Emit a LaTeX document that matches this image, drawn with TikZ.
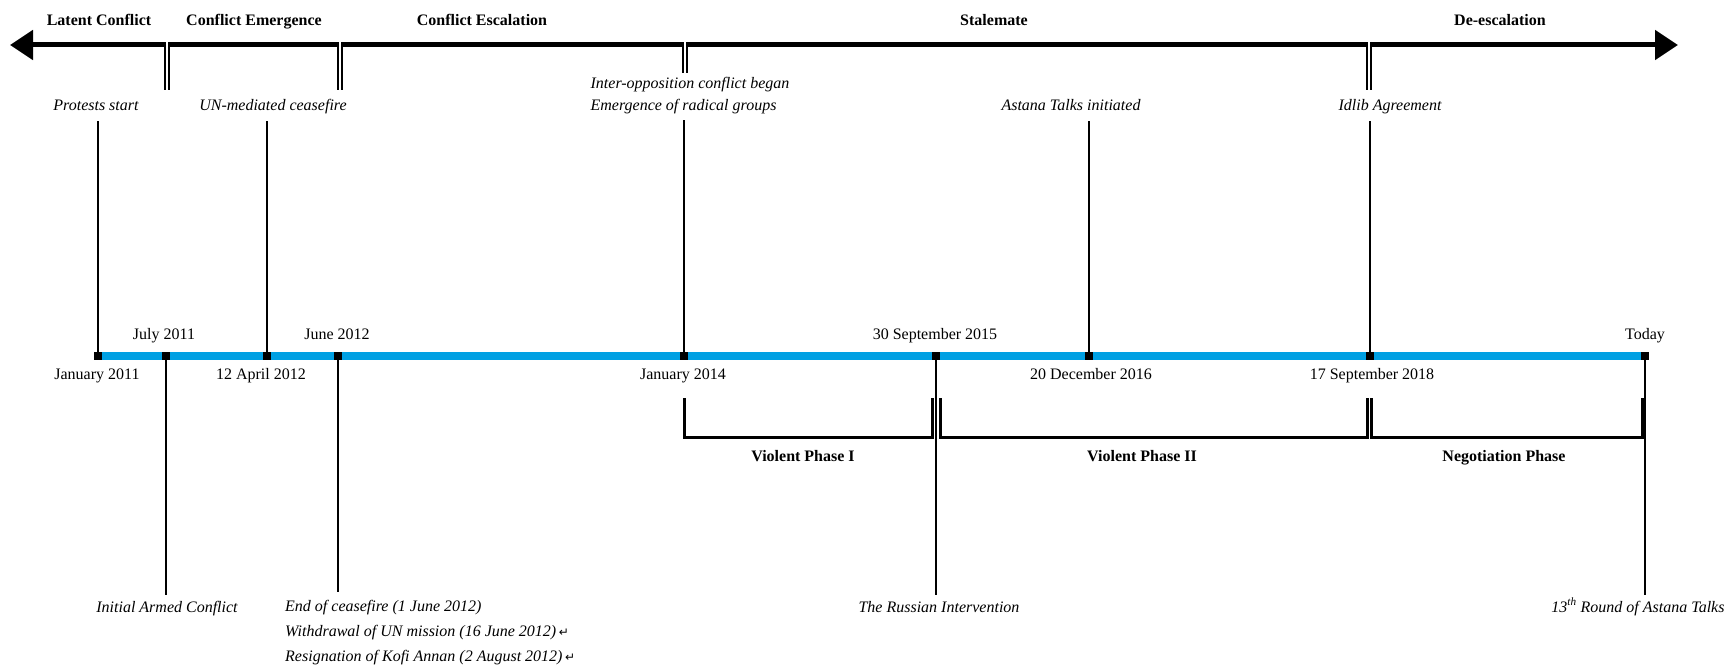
\documentclass[tikz,border=0pt]{standalone}
\usepackage{fontspec}
\setmainfont{Liberation Serif}
\newfontfamily\symfont{DejaVu Sans}
\usetikzlibrary{arrows.meta}
\definecolor{tlblue}{HTML}{00A0E3}
\begin{document}
\begin{tikzpicture}[x=1pt,y=-1pt,
 phase/.style={font=\fontsize{16}{20}\selectfont\bfseries, inner sep=0pt, text height=11.5pt, text depth=3.5pt},
 event/.style={font=\fontsize{16}{22}\selectfont\itshape, inner sep=0pt, text height=11.5pt, text depth=3.5pt},
 event2/.style={font=\fontsize{16}{22}\selectfont\itshape, inner sep=0pt, align=left},
 evmulti/.style={font=\fontsize{16}{25}\selectfont\itshape, inner sep=0pt, align=left},
 datelbl/.style={font=\fontsize{16}{20}\selectfont, inner sep=0pt, text height=11.5pt, text depth=3.5pt},
 sq/.style={fill=black, minimum size=8.5pt, inner sep=0pt, draw=none},
 conn/.style={line width=2.5pt},
 tickmark/.style={double, double distance=2.5pt, line width=2pt},
 bracket/.style={line width=3pt},
]
\useasboundingbox (0,0) rectangle (1733,671);

% top phase arrow
\coordinate (aL) at (10,45);
\coordinate (aR) at (1678,45);
\draw[line width=5pt, {Triangle[length=23pt,width=29pt]}-{Triangle[length=23pt,width=29pt]}] (aL) -- (aR);

% phase labels
\node[phase] (p1) at (99,22) {Latent Conflict};
\node[phase] (p2) at (254,22) {Conflict Emergence};
\node[phase] (p3) at (482,22) {Conflict Escalation};
\node[phase] (p4) at (994,22) {Stalemate};
\node[phase] (p5) at (1500,22) {De-escalation};

% phase boundary ticks
\foreach \x/\n/\e in {167/k1/90,340/k2/90,685/k3/73,1369/k4/90}{
  \coordinate (\n a) at (\x,42);
  \coordinate (\n b) at (\x,\e);
  \draw[tickmark] (\n a) -- (\n b);
}

% timeline
\coordinate (t0) at (97,356);
\coordinate (tE) at (1645,356);
\draw[tlblue, line width=8pt] (t0) -- (tE);

\node[sq] (s1) at (98,356) {};
\node[sq] (s2) at (166,356) {};
\node[sq] (s3) at (267,356) {};
\node[sq] (s4) at (338,356) {};
\node[sq] (s5) at (684,356) {};
\node[sq] (s6) at (936,356) {};
\node[sq] (s7) at (1089,356) {};
\node[sq] (s8) at (1370,356) {};
\node[sq] (s9) at (1645,356) {};

% date labels
\node[datelbl] (d2) at (164,335) {July 2011};
\node[datelbl] (d4) at (337,335) {June 2012};
\node[datelbl] (d6) at (935,335) {30 September 2015};
\node[datelbl] (d9) at (1645,335) {Today};
\node[datelbl] (d1) at (97,375) {January 2011};
\node[datelbl] (d3) at (261,375) {12 April 2012};
\node[datelbl] (d5) at (683,375) {January 2014};
\node[datelbl] (d7) at (1091,375) {20 December 2016};
\node[datelbl] (d8) at (1372,375) {17 September 2018};

% top events
\node[event] (e1) at (96,107) {Protests start};
\node[event] (e3) at (273,107) {UN-mediated ceasefire};
\node[event2] (e5) at (690,96) {Inter-opposition conflict began\\Emergence of radical groups};
\node[event] (e7) at (1071,107) {Astana Talks initiated};
\node[event] (e8) at (1390,107) {Idlib Agreement};

\draw[conn, shorten >=6pt] (s1.center) -- (s1.center |- e1.south);
\draw[conn, shorten >=6pt] (s3.center) -- (s3.center |- e3.south);
\draw[conn, shorten >=5pt] (s5.center) -- (s5.center |- e5.south);
\draw[conn, shorten >=6pt] (s7.center) -- (s7.center |- e7.south);
\draw[conn, shorten >=6pt] (s8.center) -- (s8.center |- e8.south);

% bottom events
\node[event] (b2) at (167,608) {Initial Armed Conflict};
\node[evmulti, anchor=north west] (b4) at (285,600) {End of ceasefire (1 June 2012)\\Withdrawal of UN mission (16 June 2012)\,{\symfont\fontsize{12}{12}\selectfont ↵}\\Resignation of Kofi Annan (2 August 2012)\,{\symfont\fontsize{12}{12}\selectfont ↵}};
\node[event] (b6) at (939,608) {The Russian Intervention};
\node[event] (b9) at (1638,608) {13\textsuperscript{th} Round of Astana Talks};

\draw[conn, shorten >=5pt] (s2.center) -- (s2.center |- b2.north);
\draw[conn, shorten >=8pt] (s4.center) -- (s4.center |- b4.north);
\draw[conn, shorten >=5pt] (s6.center) -- (s6.center |- b6.north);
\draw[conn, shorten >=5pt] (s9.center) -- (s9.center |- b9.north);

% phase brackets
\coordinate (r1a) at (684,398); \coordinate (r1b) at (932,437);
\coordinate (r2a) at (940,398); \coordinate (r2b) at (1367,437);
\coordinate (r3a) at (1371,398); \coordinate (r3b) at (1642,437);
\draw[bracket] (r1a) |- (r1b) -- (r1b |- r1a);
\draw[bracket] (r2a) |- (r2b) -- (r2b |- r2a);
\draw[bracket] (r3a) |- (r3b) -- (r3b |- r3a);

\node[phase] (v1) at (803,457) {Violent Phase I};
\node[phase] (v2) at (1142,457) {Violent Phase II};
\node[phase] (v3) at (1504,457) {Negotiation Phase};
\end{tikzpicture}
\end{document}
